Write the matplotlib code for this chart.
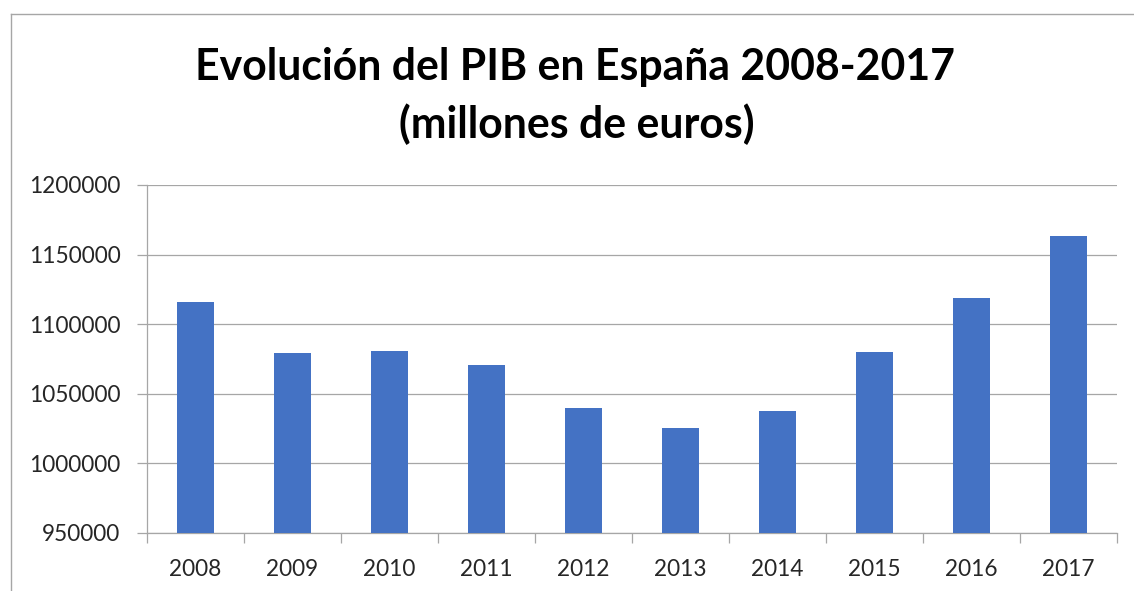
import matplotlib
matplotlib.use("Agg")
import matplotlib.pyplot as plt
from matplotlib.lines import Line2D
import numpy as np

years = ["2008", "2009", "2010", "2011", "2012", "2013", "2014", "2015", "2016", "2017"]
pib = [1116207, 1079052, 1080913, 1070413, 1039758, 1025634, 1037820, 1079998, 1118522, 1163662]
yticks = [950000, 1000000, 1050000, 1100000, 1150000, 1200000]

W, H = 1134, 591
fig = plt.figure(figsize=(W / 100, H / 100), dpi=100)
fig.patch.set_facecolor("white")

# outer chart frame (cropped at right/bottom)
fx, fy = 11 / W, 1 - 14 / H
fig.add_artist(Line2D([fx, 1.0], [fy, fy], transform=fig.transFigure, color="#A6A6A6", lw=1.0))
fig.add_artist(Line2D([fx, fx], [0, fy], transform=fig.transFigure, color="#A6A6A6", lw=1.0))

left, right, bottom, top = 147 / W, 1117 / W, 1 - 533 / H, 1 - 185 / H
ax = fig.add_axes([left, bottom, right - left, top - bottom])

x = np.arange(len(years))
ax.bar(x, pib, width=0.39, color="#4472C4", zorder=3)

ax.set_xlim(-0.5, len(years) - 0.5)
ax.set_ylim(yticks[0], yticks[-1])
ax.set_yticks(yticks)
ax.set_yticklabels([str(v) for v in yticks])
ax.yaxis.grid(True, color="#A6A6A6", lw=0.9, zorder=0)

ax.set_xticks(x)
ax.set_xticklabels(years)
ax.set_xticks(np.arange(-0.5, len(years)), minor=True)
ax.tick_params(axis="x", which="major", length=0, pad=19, labelsize=16.3, labelcolor="#262626")
ax.tick_params(axis="x", which="minor", length=7, width=0.9, color="#A6A6A6", direction="out")
ax.tick_params(axis="y", length=7, width=0.9, color="#A6A6A6", pad=12, labelsize=16.3, labelcolor="#262626")

for lab in ax.get_xticklabels() + ax.get_yticklabels():
    lab.set_family("Lato")

for s in ["top", "right"]:
    ax.spines[s].set_visible(False)
for s in ["left", "bottom"]:
    ax.spines[s].set_color("#A6A6A6")
    ax.spines[s].set_linewidth(0.9)

fig.text(575 / W, 1 - 80 / H, "Evolución del PIB en España 2008-2017", ha="center", va="baseline",
         fontsize=30.8, fontweight="bold", family="Lato", color="black")
fig.text(577 / W, 1 - 138 / H, "(millones de euros)", ha="center", va="baseline",
         fontsize=30.8, fontweight="bold", family="Lato", color="black")

fig.savefig("out.png", dpi=100, facecolor="white")
